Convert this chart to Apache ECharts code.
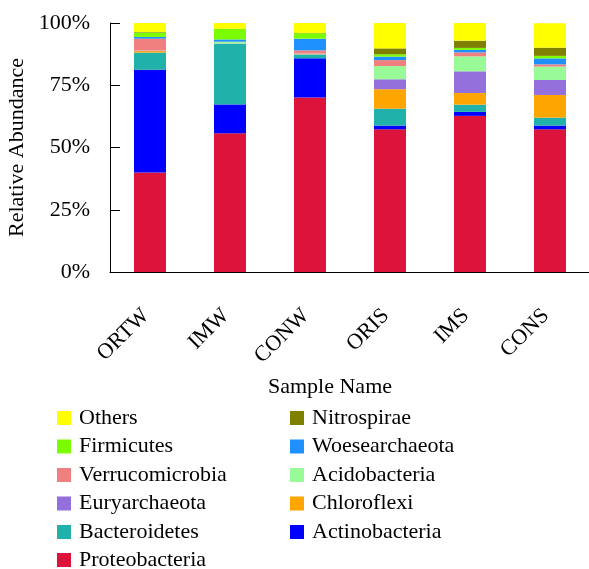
<!DOCTYPE html>
<html>
<head>
<meta charset="utf-8">
<script src="https://cdn.jsdelivr.net/npm/echarts@6/dist/echarts.min.js"></script>
<style>html,body{margin:0;padding:0;background:#fff;}#c{width:589px;height:569px;}</style>
</head>
<body>
<div id="c"></div>
<script>
const categories = ['ORTW', 'IMW', 'CONW', 'ORIS', 'IMS', 'CONS'];
const yTicks = [0, 25, 50, 75, 100];

// bottom to top stacking order
const Proteobacteria  = [40.0, 55.7, 70.1, 57.3, 62.7, 57.3];
const Actinobacteria  = [41.2, 11.6, 15.7, 1.5, 1.6, 1.5];
const Bacteroidetes   = [6.9, 24.4, 1.5, 6.8, 2.9, 3.2];
const Chloroflexi     = [0.6, 0.05, 0.1, 7.8, 4.7, 9.1];
const Euryarchaeota   = [0.1, 0.05, 0.1, 4.0, 8.7, 6.0];
const Acidobacteria   = [0.1, 0.6, 0.2, 5.3, 6.0, 5.4];
const Verrucomicrobia = [4.8, 0.1, 1.3, 2.4, 1.6, 0.9];
const Woesearchaeota  = [0.7, 0.9, 4.7, 1.4, 1.0, 2.4];
const Firmicutes      = [1.8, 4.2, 2.2, 0.9, 0.8, 1.0];
const Nitrospirae     = [0.2, 0.1, 0.1, 2.4, 2.9, 3.3];
const Others          = [3.6, 2.4, 4.0, 10.2, 7.1, 9.8];

const seriesDefs = [
  ['Proteobacteria', Proteobacteria, '#DC143C'],
  ['Actinobacteria', Actinobacteria, '#0000FF'],
  ['Bacteroidetes', Bacteroidetes, '#20B2AA'],
  ['Chloroflexi', Chloroflexi, '#FFA500'],
  ['Euryarchaeota', Euryarchaeota, '#9370DB'],
  ['Acidobacteria', Acidobacteria, '#98FB98'],
  ['Verrucomicrobia', Verrucomicrobia, '#F08080'],
  ['Woesearchaeota', Woesearchaeota, '#1E90FF'],
  ['Firmicutes', Firmicutes, '#7CFC00'],
  ['Nitrospirae', Nitrospirae, '#808000'],
  ['Others', Others, '#FFFF00']
];

const legendLeft = ['Others', 'Firmicutes', 'Verrucomicrobia', 'Euryarchaeota', 'Bacteroidetes'];
const legendLeftLast = ['Proteobacteria'];
const legendRight = ['Nitrospirae', 'Woesearchaeota', 'Acidobacteria', 'Chloroflexi', 'Actinobacteria'];

const font = '"Liberation Serif", "DejaVu Serif", serif';
const legendCommon = {
  orient: 'vertical',
  top: 407,
  padding: 0,
  itemWidth: 14,
  itemHeight: 14,
  itemGap: 6.5,
  icon: 'rect',
  textStyle: { fontFamily: font, fontSize: 22, color: '#000', padding: [0, 0, 0, 3] },
  selectedMode: false
};

const chart = echarts.init(document.getElementById('c'));
chart.setOption({
  animation: false,
  backgroundColor: '#fff',
  grid: { left: 110, right: -1, top: 23, bottom: 297, outerBoundsMode: 'none', containLabel: false },
  legend: [
    Object.assign({}, legendCommon, { left: 57, data: legendLeft }),
    Object.assign({}, legendCommon, { left: 57, top: 549, data: legendLeftLast }),
    Object.assign({}, legendCommon, { left: 290, data: legendRight })
  ],
  xAxis: {
    type: 'category',
    data: categories,
    name: 'Sample Name',
    nameLocation: 'middle',
    nameGap: 104,
    nameTextStyle: { fontFamily: font, fontSize: 22, color: '#000', padding: [0, 40, 0, 0] },
    axisLine: { lineStyle: { color: '#000', width: 1 } },
    axisTick: { inside: true, length: 8, lineStyle: { color: '#000' } },
    axisLabel: { rotate: 45, margin: 36, fontFamily: font, fontSize: 22, color: '#000', padding: [0, 6, 0, 0] }
  },
  yAxis: {
    type: 'value',
    min: 0,
    max: 100,
    interval: 25,
    name: 'Relative Abundance',
    nameLocation: 'middle',
    nameGap: 77,
    nameTextStyle: { fontFamily: font, fontSize: 22, color: '#000' },
    splitLine: { show: false },
    axisLine: { show: true, lineStyle: { color: '#000', width: 1 } },
    axisTick: { show: true, inside: true, length: 10, lineStyle: { color: '#000' } },
    axisLabel: {
      margin: 20, fontFamily: font, fontSize: 22, color: '#000',
      formatter: v => yTicks.includes(v) ? v + '%' : ''
    }
  },
  series: seriesDefs.map(([name, data, color]) => ({
    name, type: 'bar', stack: 'total', data, barWidth: 32,
    itemStyle: { color }
  }))
});
</script>
</body>
</html>
